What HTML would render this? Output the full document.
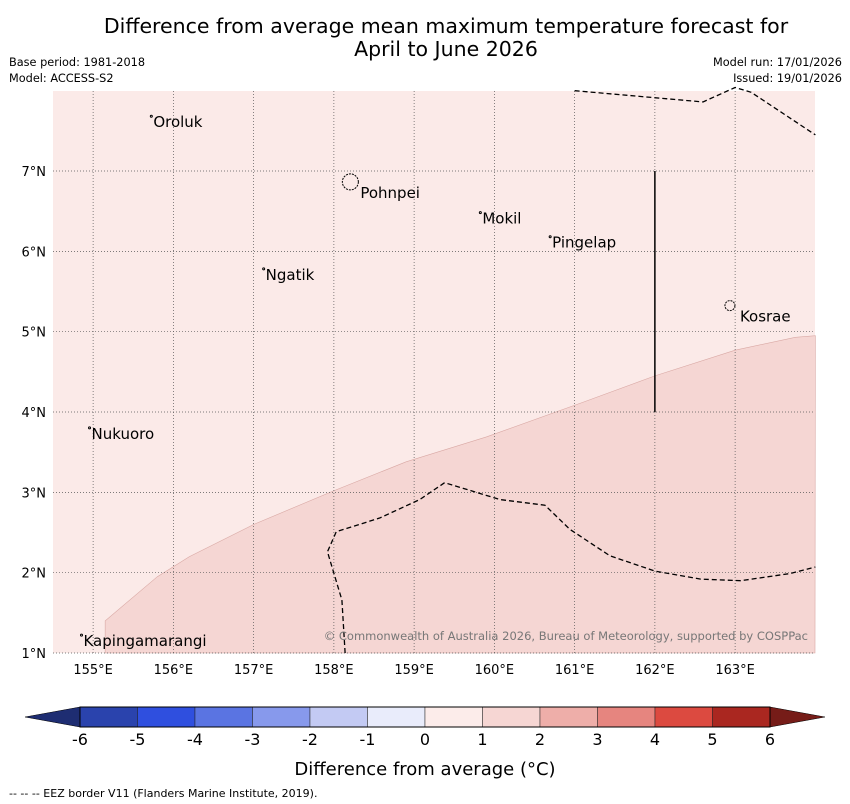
<!DOCTYPE html>
<html><head><meta charset="utf-8"><style>
body{margin:0;background:#fff;width:850px;height:804px;overflow:hidden;font-family:"DejaVu Sans","Liberation Sans",sans-serif}
svg{position:absolute;left:0;top:0}
</style></head><body>
<svg id="s" width="850" height="804" xmlns="http://www.w3.org/2000/svg">
<text x="446" y="33" font-size="20.5" text-anchor="middle">Difference from average mean maximum temperature forecast for</text>
<text x="446" y="56" font-size="20.5" text-anchor="middle">April to June 2026</text>
<text x="9" y="66" font-size="11.3">Base period: 1981-2018</text>
<text x="9" y="82" font-size="11.3">Model: ACCESS-S2</text>
<text x="842" y="66" font-size="11.3" text-anchor="end">Model run: 17/01/2026</text>
<text x="842" y="82" font-size="11.3" text-anchor="end">Issued: 19/01/2026</text>
<g id="map"></g>
<g id="cb"></g>
<text x="425" y="775" font-size="18" text-anchor="middle">Difference from average (°C)</text>
<text x="9" y="797" font-size="11">-- -- -- EEZ border V11 (Flanders Marine Institute, 2019).</text>
</svg>
<script>
const lonTicks=[155,156,157,158,159,160,161,162,163];
const latTicks=[1,2,3,4,5,6,7];
const islandNames=["Oroluk","Pohnpei","Mokil","Pingelap","Ngatik","Kosrae","Nukuoro","Kapingamarangi"];
const islandLon=[155.75,158.33,159.85,160.72,157.15,163.06,154.98,154.88];
const islandLat=[7.62,6.74,6.42,6.12,5.72,5.2,3.74,1.16];
const zoneLon=[155.15,155.15,155.8,156.2,157.0,158.0,158.9,159.9,161.1,162.0,163.0,163.75,164.0];
const zoneLat=[1.0,1.4,1.95,2.2,2.6,3.02,3.38,3.69,4.12,4.45,4.77,4.93,4.95];
const eezLon=[158.14,158.1,157.92,158.03,158.57,159.07,159.38,160.07,160.63,160.94,161.44,162.0,162.57,163.07,163.69,164.0];
const eezLat=[1.0,1.66,2.26,2.51,2.68,2.91,3.12,2.91,2.84,2.54,2.21,2.02,1.92,1.9,1.99,2.07];
const eezTopLon=[161.0,162.6,163.0,163.2,164.0];
const eezTopLat=[8.0,7.86,8.04,7.98,7.45];
const cbTicks=[-6,-5,-4,-3,-2,-1,0,1,2,3,4,5,6];
const cbColors=["#2a43ad","#2f4fdf","#5a74e2","#8799ec","#c3caf3","#e9ecfb","#fcecea","#f6d6d3","#eeaea9","#e6857f","#dc4a40","#aa2720"];
const X=l=>53+(l-154.5)*80.25, Y=l=>653-(l-1)*80.33;
const NS="http://www.w3.org/2000/svg";
function mk(p,t,a){const e=document.createElementNS(NS,t);for(const k in a)e.setAttribute(k,a[k]);p.appendChild(e);return e;}
const m=document.getElementById('map');
let r=mk(m,'rect',{x:53,y:91,width:762,height:562,fill:'#fbeae8'});


let d='M'+zoneLon.map((v,i)=>X(v)+','+Y(zoneLat[i])).join(' L')+' L815,653 Z';
let z=mk(m,'path',{d:d,fill:'#f5d6d3',stroke:'#d9a8a4','stroke-width':0.6});


lonTicks.forEach(v=>{let l=mk(m,'line',{x1:X(v),x2:X(v),y1:91,y2:653,stroke:'#555','stroke-width':0.7,'stroke-dasharray':'1,2'});


let t=mk(m,'text',{x:X(v),y:674,'font-size':13,'text-anchor':'middle'});t.textContent=v+'°E';

});
latTicks.forEach(v=>{let l=mk(m,'line',{x1:53,x2:815,y1:Y(v),y2:Y(v),stroke:'#555','stroke-width':0.7,'stroke-dasharray':'1,2'});


let t=mk(m,'text',{x:46,y:Y(v)+5,'font-size':13,'text-anchor':'end'});t.textContent=v+'°N';

});
let e1=mk(m,'path',{d:'M'+eezLon.map((v,i)=>X(v)+','+Y(eezLat[i])).join(' L'),fill:'none',stroke:'#000','stroke-width':1.3,'stroke-dasharray':'5,3'});


let e2=mk(m,'path',{d:'M'+eezTopLon.map((v,i)=>X(v)+','+Y(eezTopLat[i])).join(' L'),fill:'none',stroke:'#000','stroke-width':1.3,'stroke-dasharray':'5,3'});


let vl=mk(m,'line',{x1:X(162),x2:X(162),y1:Y(7),y2:Y(4),stroke:'#000','stroke-width':1.5});


islandNames.forEach((n,i)=>{const x=X(islandLon[i]),y=Y(islandLat[i]);
let big=(n=='Pohnpei'||n=='Kosrae');
let c=mk(m,'circle',{cx:x-(big?10:2),cy:y-(big?10:5),r:big?(n=='Pohnpei'?8:5):1,fill:'none',stroke:'#000','stroke-width':1,'stroke-dasharray':big?'2,1':''});


let t=mk(m,'text',{x:x,y:y+6,'font-size':15});t.textContent=n;

});
let cp=mk(m,'text',{x:808,y:640,'font-size':11.5,'text-anchor':'end',fill:'#777'});cp.textContent='© Commonwealth of Australia 2026, Bureau of Meteorology, supported by COSPPac';


const cb=document.getElementById('cb');
const CX=v=>425+v*57.5;
cbColors.forEach((c,i)=>{let b=mk(cb,'rect',{x:CX(cbTicks[i]),y:707,width:57.5,height:20,fill:c,stroke:'#222','stroke-width':0.5});

});
let lt=mk(cb,'polygon',{points:`${CX(-6)},707 25,717 ${CX(-6)},727`,fill:'#1e2d72',stroke:'#000','stroke-width':0.5});


let rt=mk(cb,'polygon',{points:`${CX(6)},707 825,717 ${CX(6)},727`,fill:'#761c18',stroke:'#000','stroke-width':0.5});


let ol=mk(cb,'rect',{x:CX(-6),y:707,width:690,height:20,fill:'none',stroke:'#000','stroke-width':1});


cbTicks.forEach(v=>{let t=mk(cb,'text',{x:CX(v),y:745,'font-size':16,'text-anchor':'middle'});t.textContent=v;

});
</script>
</body></html>
